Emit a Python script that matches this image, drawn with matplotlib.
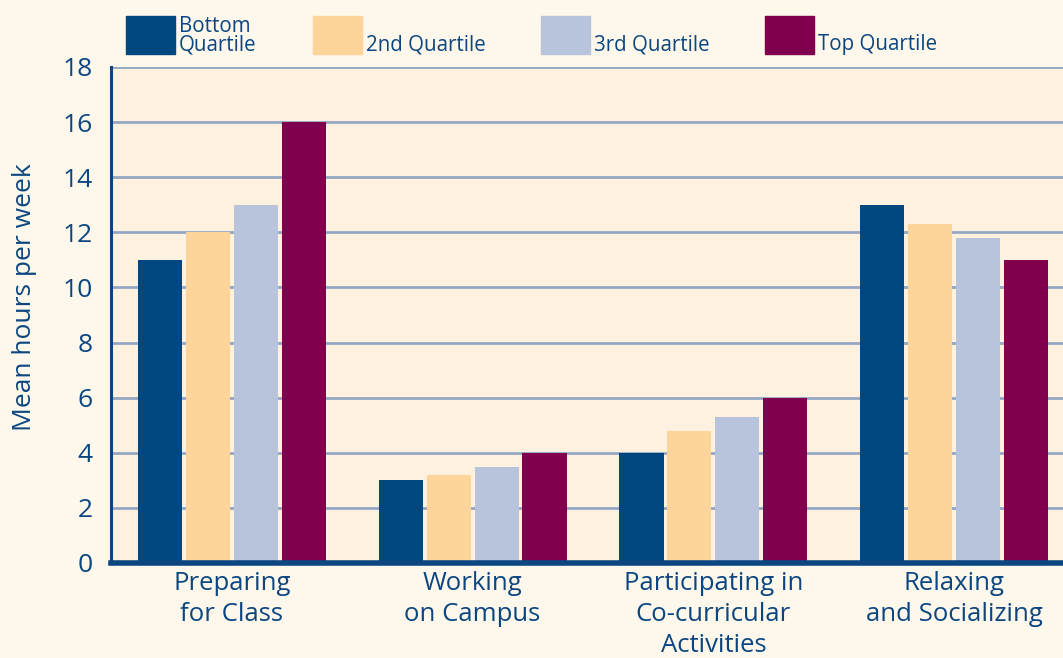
import numpy as np
import matplotlib
matplotlib.use("Agg")
import matplotlib.pyplot as plt
from matplotlib.patches import Rectangle

# Daten
categories = ["Preparing\nfor Class", "Working\non Campus",
              "Participating in\nCo-curricular\nActivities", "Relaxing\nand Socializing"]
series_names = ["Bottom\nQuartile", "2nd Quartile", "3rd Quartile", "Top Quartile"]
bottom_q = [11, 3, 4, 13]
second_q = [12, 3.2, 4.8, 12.3]
third_q = [13, 3.5, 5.3, 11.8]
top_q = [16, 4, 6, 11]
y_ticks = [0, 2, 4, 6, 8, 10, 12, 14, 16, 18]

colors = ["#00467f", "#fdd49a", "#b8c4dc", "#80004e"]
text_col = "#0b4680"
plt.rcParams['font.family'] = ['Open Sans', 'DejaVu Sans']

fig = plt.figure(figsize=(10.63, 6.58), dpi=100, facecolor="#fef7ec")
ax = fig.add_axes([0.1044, 0.1444, 0.8956, 0.7538])
ax.set_facecolor("#fef1df")

x = np.arange(len(categories))
step = 0.199
width = 0.183
for i, vals in enumerate([bottom_q, second_q, third_q, top_q]):
    ax.bar(x + (i - 1.5) * step, vals, width, color=colors[i], zorder=3)

ax.set_ylim(0, 18)
ax.set_xlim(-0.502, 3.452)
ax.set_yticks(y_ticks)
ax.yaxis.grid(True, color="#94a8c4", linewidth=2, zorder=1)
ax.tick_params(axis="y", length=0, pad=13, labelsize=19, labelcolor=text_col)
ax.tick_params(axis="x", length=0, pad=6, labelsize=18.5, labelcolor=text_col)
ax.set_xticks(x)
ax.set_xticklabels(categories, linespacing=1.3, va="top")
ax.set_ylabel("Mean hours per week", fontsize=19, color=text_col)
ax.yaxis.set_label_coords(-0.078, 0.535)

for s in ["top", "right"]:
    ax.spines[s].set_visible(False)
ax.spines["left"].set_color(text_col)
ax.spines["left"].set_linewidth(2.2)
ax.spines["bottom"].set_color(text_col)
ax.spines["bottom"].set_linewidth(4)
ax.spines["bottom"].set_zorder(4)

# Legende von Hand
W, H = 1063.0, 658.0
box_x = [126, 313, 541, 765]
for i, name in enumerate(series_names):
    fig.add_artist(Rectangle((box_x[i] / W, 1 - 54 / H), 49 / W, 38 / H,
                             transform=fig.transFigure, color=colors[i]))
    fig.text((box_x[i] + 53) / W, 1 - 55 / H, name, fontsize=14.8, color=text_col,
             va="bottom", linespacing=0.82)

fig.savefig("out.png", dpi=100, facecolor=fig.get_facecolor())
